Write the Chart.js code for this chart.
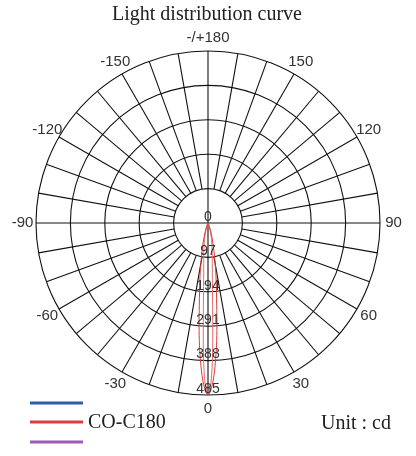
<!DOCTYPE html>
<html>
<head>
<meta charset="utf-8">
<script src="https://cdn.jsdelivr.net/npm/chart.js@4/dist/chart.umd.min.js"></script>
<style>
  html, body { margin: 0; padding: 0; background: #fff; }
  #wrap { width: 416px; height: 456px; }
</style>
</head>
<body>
<div id="wrap"><canvas id="polar" width="416" height="456"></canvas></div>
<script>
// ---------------------- DATA ---------------------
// angle in degrees, 0 = straight down, positive towards the right
const angles = [-30, -25, -20, -16, -13, -11, -9, -8, -7, -6, -5, -4, -3, -2, -1, 0,
                1, 2, 3, 4, 5, 6, 7, 8, 9, 11, 13, 16, 20, 25, 30];
// intensity, cd
const c0c180 = [0, 5, 15, 38, 67, 97, 140, 165, 195, 235, 290, 345, 395, 440, 470, 485,
                470, 440, 395, 345, 290, 235, 195, 165, 140, 97, 67, 38, 15, 5, 0];
const c90c270 = [0, 0, 8, 20, 40, 55, 72, 85, 100, 115, 140, 180, 250, 370, 455, 480,
                 455, 370, 250, 180, 140, 115, 100, 85, 72, 55, 40, 20, 8, 0, 0];

const ringValues = [97, 194, 291, 388, 485];
const ringLabels = ["0", "97", "194", "291", "388", "485"];
const angleTicks = [0, 30, 60, 90, 120, 150, 180, 210, 240, 270, 300, 330];
const angleLabels = ["0", "30", "60", "90", "120", "150", "-/+180", "-150", "-120", "-90", "-60", "-30"];
const maxValue = 485;

// ---------------------- HELPERS ---------------------
function toXY(degs, values) {
  return degs.map(function (a, i) {
    const r = a * Math.PI / 180;
    return { x: values[i] * Math.sin(r), y: -values[i] * Math.cos(r) };
  });
}

function pixel(chart, value, deg) {
  const r = deg * Math.PI / 180;
  return {
    x: chart.scales.x.getPixelForValue(value * Math.sin(r)),
    y: chart.scales.y.getPixelForValue(-value * Math.cos(r))
  };
}

// ---------------------- POLAR GRID + TEXT ---------------------
const polarGrid = {
  id: "polarGrid",
  beforeDatasetsDraw(chart) {
    const ctx = chart.ctx;
    const c = pixel(chart, 0, 0);
    ctx.save();
    ctx.strokeStyle = "#111";
    ctx.lineWidth = 1.1;
    ringValues.forEach(function (v) {
      const p = pixel(chart, v, 90);
      ctx.beginPath();
      ctx.arc(c.x, c.y, p.x - c.x, 0, Math.PI * 2);
      ctx.stroke();
    });
    for (let a = 0; a < 360; a += 10) {
      const from = pixel(chart, a % 90 === 0 ? 0 : ringValues[0], a);
      const to = pixel(chart, maxValue, a);
      ctx.beginPath();
      ctx.moveTo(from.x, from.y);
      ctx.lineTo(to.x, to.y);
      ctx.stroke();
    }
    ctx.restore();
  },
  afterDatasetsDraw(chart) {
    const ctx = chart.ctx;
    const c = pixel(chart, 0, 0);
    const R = pixel(chart, maxValue, 90).x - c.x;
    ctx.save();
    ctx.textAlign = "center";
    ctx.textBaseline = "middle";

    // radial value labels
    ctx.fillStyle = "#333";
    ctx.font = '14px "Liberation Sans", Arial, sans-serif';
    ringLabels.forEach(function (t, i) {
      const v = i === 0 ? 0 : ringValues[i - 1];
      const p = pixel(chart, v, 0);
      ctx.fillText(t, p.x, p.y - 6);
    });

    // angle labels
    ctx.font = '15px "Liberation Sans", Arial, sans-serif';
    angleTicks.forEach(function (a, i) {
      const r = a * Math.PI / 180;
      const d = R + 13.5;
      ctx.fillText(angleLabels[i], c.x + d * Math.sin(r), c.y + d * Math.cos(r));
    });

    // title
    ctx.fillStyle = "#222";
    ctx.font = '20px "Liberation Serif", "Times New Roman", serif';
    ctx.fillText("Light distribution curve", 207, 15);

    // legend
    const legend = [["#2f5ea8", 403], ["#e03a3a", 422], ["#9c5cb0", 442]];
    ctx.lineWidth = 3;
    legend.forEach(function (l) {
      ctx.strokeStyle = l[0];
      ctx.beginPath();
      ctx.moveTo(30, l[1]);
      ctx.lineTo(83, l[1]);
      ctx.stroke();
    });
    ctx.textAlign = "left";
    ctx.font = '20px "Liberation Serif", "Times New Roman", serif';
    ctx.fillText("CO-C180", 88, 423);
    ctx.fillText("Unit : cd", 321, 424);
    ctx.restore();
  }
};

// ---------------------- CHART ---------------------
new Chart(document.getElementById("polar"), {
  type: "scatter",
  data: {
    datasets: [
      {
        label: "C0-C180",
        data: toXY(angles, c0c180),
        showLine: true,
        borderColor: "#e03a3a",
        borderWidth: 1,
        pointRadius: 0,
        tension: 0.3
      },
      {
        label: "C90-C270",
        data: toXY(angles, c90c270),
        showLine: true,
        borderColor: "#e86a6a",
        borderWidth: 1,
        pointRadius: 0,
        tension: 0.3
      }
    ]
  },
  options: {
    responsive: false,
    animation: false,
    layout: { padding: { left: 36, right: 36, top: 51, bottom: 61 } },
    plugins: { legend: { display: false }, tooltip: { enabled: false } },
    scales: {
      x: { type: "linear", min: -maxValue, max: maxValue, display: false },
      y: { type: "linear", min: -maxValue, max: maxValue, display: false }
    }
  },
  plugins: [polarGrid]
});
</script>
</body>
</html>
